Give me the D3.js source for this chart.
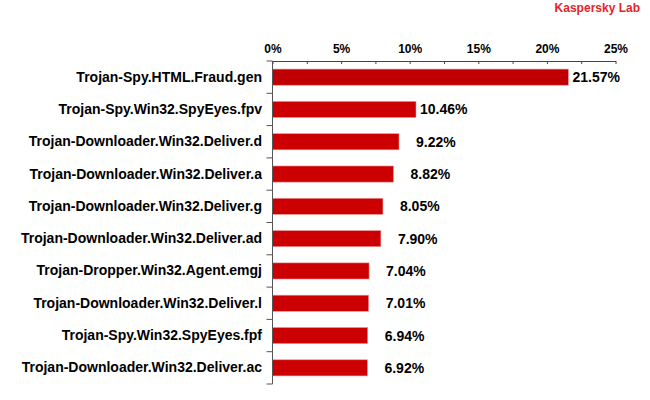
<!DOCTYPE html>
<html>
<head>
<meta charset="utf-8">
<script src="https://cdn.jsdelivr.net/npm/d3@7"></script>
<style>
  body { margin: 0; background: #fff; }
  svg { display: block; font-family: "Liberation Sans", Arial, sans-serif; }
</style>
</head>
<body>
<svg id="chart" width="650" height="400"></svg>
<script>
// Chart data
const categories = [
  'Trojan-Spy.HTML.Fraud.gen',
  'Trojan-Spy.Win32.SpyEyes.fpv',
  'Trojan-Downloader.Win32.Deliver.d',
  'Trojan-Downloader.Win32.Deliver.a',
  'Trojan-Downloader.Win32.Deliver.g',
  'Trojan-Downloader.Win32.Deliver.ad',
  'Trojan-Dropper.Win32.Agent.emgj',
  'Trojan-Downloader.Win32.Deliver.l',
  'Trojan-Spy.Win32.SpyEyes.fpf',
  'Trojan-Downloader.Win32.Deliver.ac'
];
const shares = [21.57, 10.46, 9.22, 8.82, 8.05, 7.90, 7.04, 7.01, 6.94, 6.92];
const xTicks = [0, 2.5, 5, 7.5, 10, 12.5, 15, 17.5, 20, 22.5, 25];
const xTickLabels = ['0%', '', '5%', '', '10%', '', '15%', '', '20%', '', '25%'];

const svg = d3.select('#chart');

// Scales
const x = d3.scaleLinear().domain([0, 25]).range([272.5, 615.5]);
const y = d3.scaleBand().domain(categories).range([61, 384])
  .paddingInner(0.5).paddingOuter(0.25);

// Brand caption
svg.append('text')
  .attr('x', 640)
  .attr('y', 11.5)
  .attr('text-anchor', 'end')
  .attr('font-size', 12)
  .attr('font-weight', 'bold')
  .attr('fill', '#e3242b')
  .text('Kaspersky Lab');

// Bars
svg.append('g')
  .selectAll('rect')
  .data(shares)
  .join('rect')
  .attr('x', x(0))
  .attr('y', (d, i) => y(categories[i]))
  .attr('width', d => x(d) - x(0))
  .attr('height', y.bandwidth())
  .attr('fill', (d, i) => i === 0 ? '#c00000' : '#cc0000')
  .attr('stroke', '#ec9a9a')
  .attr('stroke-width', 0.6);

// Value labels (two-digit values sit closer to the bar end)
svg.append('g')
  .selectAll('text')
  .data(shares)
  .join('text')
  .attr('x', d => x(d) + (d >= 10 ? 4 : 17))
  .attr('y', (d, i) => y(categories[i]) + y.bandwidth() / 2)
  .attr('dy', '0.36em')
  .attr('font-size', 14)
  .attr('font-weight', 'bold')
  .attr('fill', '#000')
  .text(d => d.toFixed(2) + '%');

// Top axis
const xAxis = svg.append('g')
  .attr('transform', 'translate(0,61)')
  .call(d3.axisTop(x)
    .tickValues(xTicks)
    .tickFormat((d, i) => xTickLabels[i])
    .tickSizeInner(-3)
    .tickSizeOuter(0)
    .tickPadding(8.5));
xAxis.selectAll('path, line').attr('stroke', '#444');
xAxis.selectAll('text')
  .attr('font-family', '"Liberation Sans", Arial, sans-serif')
  .attr('font-size', 12)
  .attr('font-weight', 'bold')
  .attr('fill', '#000');

// Left axis: labels centred on bands, ticks on band boundaries
const yAxis = svg.append('g')
  .attr('transform', 'translate(' + x(0) + ',0)')
  .call(d3.axisLeft(y).tickSize(0).tickPadding(10.5));
yAxis.select('.domain').remove();
yAxis.selectAll('text')
  .attr('font-family', '"Liberation Sans", Arial, sans-serif')
  .attr('font-size', 14)
  .attr('font-weight', 'bold')
  .attr('fill', '#000');

const bounds = d3.range(categories.length + 1).map(i => y.range()[0] + i * y.step());
yAxis.append('line')
  .attr('x1', 0).attr('x2', 0)
  .attr('y1', bounds[0]).attr('y2', bounds[bounds.length - 1])
  .attr('stroke', '#555');
yAxis.selectAll('.bound')
  .data(bounds)
  .join('line')
  .attr('class', 'bound')
  .attr('x1', -6).attr('x2', 0)
  .attr('y1', d => d).attr('y2', d => d)
  .attr('stroke', '#555');
</script>
</body>
</html>
